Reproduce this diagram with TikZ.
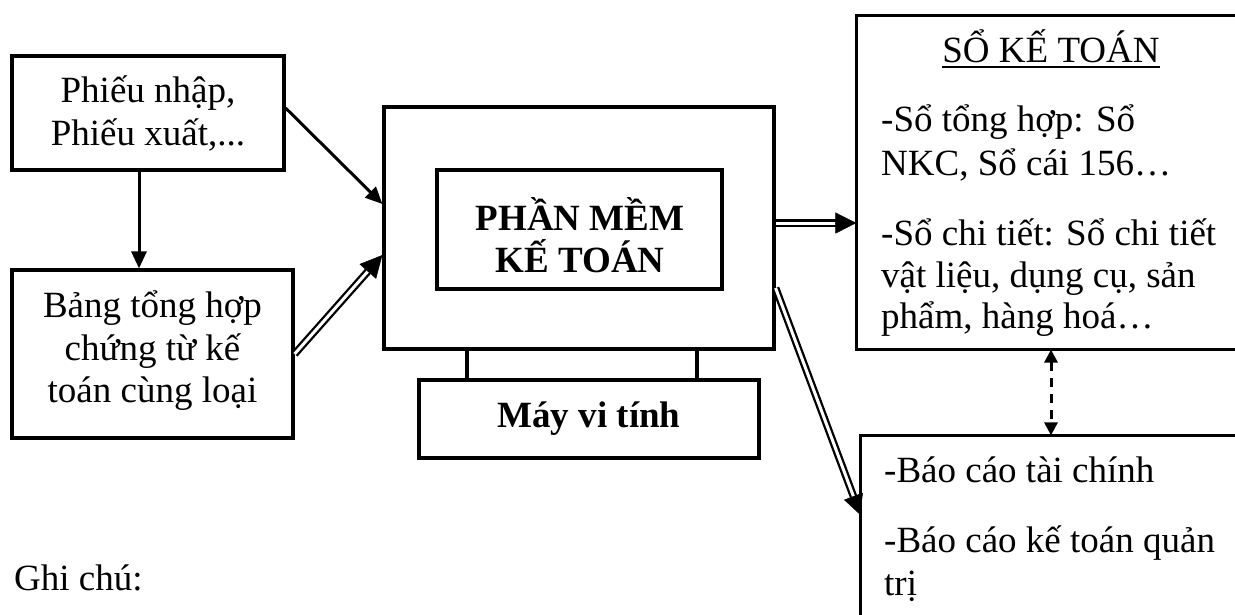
\documentclass[tikz,border=0pt]{standalone}
\usepackage{fontspec}
\setmainfont{Liberation Serif}
\usetikzlibrary{arrows.meta,calc}
\begin{document}
\begin{tikzpicture}[x=1pt,y=-1pt,
  box/.style={draw, rectangle, line width=3.2pt, inner sep=0pt},
  openbox/.style={rectangle, inner sep=0pt, outer sep=1.6pt},
  edge/.style={line width=3.2pt},
  txt/.style={inner sep=0pt, font=\fontsize{37}{43}\selectfont},
  btxt/.style={txt, font=\fontsize{37}{43}\selectfont\bfseries},
  arr/.style={line width=3pt, -{Triangle[length=17pt,width=15pt]}},
  dbl/.style={double, line width=2.3pt, double distance=3pt},
  tip/.style={line width=0.5pt, -{Triangle[length=#1,width=#1]}},
  standline/.style={line width=3.2pt},
  dsh/.style={line width=3pt, dash pattern=on 9pt off 7pt,
    {Triangle[length=13pt,width=13pt]}-{Triangle[length=13pt,width=13pt]}}
]
\useasboundingbox (0,0) rectangle (1235,614);

% boxes
\node[box, minimum width=272pt, minimum height=114pt] (A) at (148,113) {};
\node[box, minimum width=281pt, minimum height=168pt] (B) at (152.5,354) {};
\node[box, minimum width=390pt, minimum height=242pt] (M) at (579,228) {};
\node[box, minimum width=285pt, minimum height=119pt] (P) at (579.5,229.5) {};
\node[box, minimum width=340pt, minimum height=78pt] (K) at (589,419) {};
% the two ledger/report boxes run off the right edge of the page
\node[openbox, minimum width=378pt, minimum height=331pt] (S) at (1047,182.5) {};
\node[openbox, minimum width=374pt, minimum height=223pt] (R) at (1049,548.5) {};
\draw[edge] (S.north east) -- (S.north west) -- (S.south west) -- (S.south east);
\draw[edge] (R.north east) -- (R.north west) -- (R.south west);

% texts
\node[txt, anchor=base] (a1) at (148,102) {Phiếu nhập,};
\node[txt, anchor=base] (a2) at (148,145) {Phiếu xuất,...};
\node[txt, anchor=base] (b1) at (152.5,317) {Bảng tổng hợp};
\node[txt, anchor=base] (b2) at (152.5,360) {chứng từ kế};
\node[txt, anchor=base] (b3) at (152.5,402) {toán cùng loại};
\node[btxt, anchor=base] (p1) at (580,230) {PHẦN MỀM};
\node[btxt, anchor=base] (p2) at (580,272) {KẾ TOÁN};
\node[btxt, anchor=base] (k1) at (589,427) {Máy vi tính};
\node[txt, anchor=base] (s0) at (1051,62) {SỔ KẾ TOÁN};
\draw[line width=2pt] ([yshift=-5pt]s0.base west) -- ([yshift=-5pt]s0.base east);
\node[txt, anchor=base west] (s1) at (881,131) {-Sổ tổng hợp: Sổ};
\node[txt, anchor=base west] (s2) at (881,175) {NKC, Sổ cái 156…};
\node[txt, anchor=base west] (s3) at (881,245) {-Sổ chi tiết: Sổ chi tiết};
\node[txt, anchor=base west] (s4) at (881,287) {vật liệu, dụng cụ, sản};
\node[txt, anchor=base west] (s5) at (881,328) {phẩm, hàng hoá…};
\node[txt, anchor=base west] (r1) at (884,482) {-Báo cáo tài chính};
\node[txt, anchor=base west] (r2) at (884,552) {-Báo cáo kế toán quản};
\node[txt, anchor=base west] (r3) at (884,595) {trị};
\node[txt, anchor=base west] (g) at (14,590) {Ghi chú:};

% monitor stand
\draw[standline] ([xshift=-112pt]M.south) -- ([xshift=-112pt]M.south |- K.north);
\draw[standline] ([xshift=118pt]M.south) -- ([xshift=118pt]M.south |- K.north);

% single arrows
\draw[arr] ([xshift=-9pt]A.south) -- ([xshift=-9pt]A.south |- B.north);
\draw[arr] ([yshift=5pt]A.east) -- ([yshift=24pt]M.west);

% double arrows
\coordinate (bs) at (B.east);
\coordinate (me) at ([yshift=-27pt]M.west);
\draw[dbl, shorten >=20pt] (bs) -- (me);
\draw[tip=22pt] ($(me)!22pt!(bs)$) -- (me);

\coordinate (ms) at ([yshift=5pt]M.east);
\coordinate (se) at ([yshift=-40.5pt]S.west);
\draw[dbl, shorten >=18pt] (ms) -- (se);
\draw[tip=21pt] ($(se)!21pt!(ms)$) -- (se);

\coordinate (mr) at ([yshift=-60pt]M.east);
\coordinate (re) at ([yshift=33.5pt]R.west);
\draw[dbl, shorten >=18pt] (mr) -- (re);
\draw[tip=20pt] ($(re)!20pt!(mr)$) -- (re);

% dashed link between the two report boxes
\draw[dsh] ([xshift=4pt]S.south) -- ([xshift=4pt]S.south |- R.north);
\end{tikzpicture}
\end{document}
